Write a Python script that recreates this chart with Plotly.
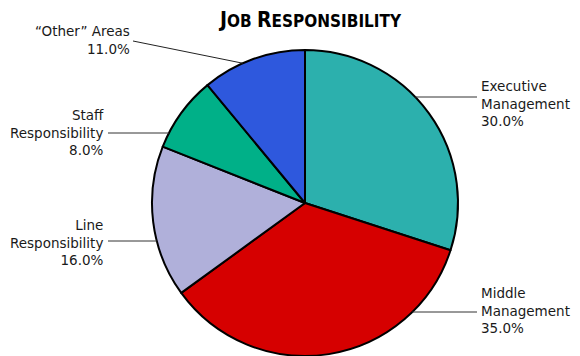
import math
import plotly.graph_objects as go

categories = ["Executive<br>Management", "Middle<br>Management", "Line<br>Responsibility",
              "Staff<br>Responsibility", "\u201cOther\u201d Areas"]
values = [30.0, 35.0, 16.0, 8.0, 11.0]
colors = ["#2cb0ad", "#d60000", "#b0b0da", "#00b088", "#2e58dd"]

W, H = 580, 356
OFF = 8  # page body margin in the browser
CX, CY, R = 305, 203, 153  # pie centre / radius in page pixels

def px(x):
    return (x - OFF) / W

def py(y):
    return 1 - (y - OFF) / H

fig = go.Figure(go.Pie(
    labels=categories, values=values, sort=False, direction="clockwise", rotation=0,
    marker=dict(colors=colors, line=dict(color="#000000", width=2)),
    textinfo="none", hoverinfo="label+percent", showlegend=False,
    domain=dict(x=[px(CX - R), px(CX + R)], y=[py(CY + R), py(CY - R)]),
))

FONT = dict(family="DejaVu Sans, Verdana, sans-serif", size=13.5, color="#1a1a1a")
label_pos = [
    ("left", 479, 85, 97),
    ("left", 479, 292, 312),
    ("right", 106, 224, 241),
    ("right", 106, 114, 133),
    ("right", 132, 30, None),
]

annotations = []
shapes = []
total = sum(values)
for cat, val, (side, ax_, ytop, ylead) in zip(categories, values, label_pos):
    lines = cat.split("<br>") + [f"{val / total * 100:.1f}%"]
    text = "<br>".join(lines)
    annotations.append(dict(
        x=px(ax_), y=py(ytop - 9), xref="paper", yref="paper",
        xanchor="left" if side == "left" else "right", yanchor="top",
        align="left" if side == "left" else "right",
        text=text, showarrow=False, font=FONT,
    ))
    if ylead is not None:
        dy = ylead - CY
        dx = math.sqrt(R * R - dy * dy)
        xe = CX + dx if side == "left" else CX - dx
        xs = ax_ - 2 if side == "left" else ax_ + 2
        shapes.append(dict(type="line", xref="paper", yref="paper",
                           x0=px(xs), y0=py(ylead), x1=px(xe), y1=py(ylead),
                           line=dict(color="#333333", width=1)))

ang = math.radians(336)
xe, ye = CX + R * math.sin(ang), CY - R * math.cos(ang)
shapes.append(dict(type="line", xref="paper", yref="paper",
                   x0=px(133), y0=py(41), x1=px(xe), y1=py(ye),
                   line=dict(color="#222222", width=1)))

shapes.append(dict(type="rect", xref="paper", yref="paper",
                   x0=px(577), x1=px(583), y0=py(360), y1=py(12),
                   fillcolor="#e4e4e4", line=dict(width=0), layer="below"))

title_font = "Liberation Sans Narrow, Arial Narrow, DejaVu Sans Condensed, sans-serif"
title = ("<b><span style='font-size:21px'>J</span>OB "
         "<span style='font-size:21px'>R</span>ESPONSIBILITY</b>")
annotations.append(dict(
    x=px(310), y=py(20), xref="paper", yref="paper", xanchor="center", yanchor="middle",
    text=title, showarrow=False,
    font=dict(family=title_font, size=17, color="#000000"),
))

fig.update_layout(
    width=W, height=H, margin=dict(l=0, r=0, t=0, b=0),
    paper_bgcolor="#ffffff", plot_bgcolor="#ffffff",
    annotations=annotations, shapes=shapes,
)

fig.write_html("out.html")
